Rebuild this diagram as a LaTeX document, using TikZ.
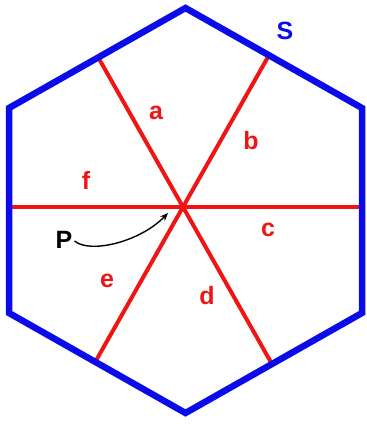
\documentclass[tikz,border=0pt]{standalone}
\usepackage{fontspec}
\setmainfont{Liberation Sans}
\usetikzlibrary{calc,arrows.meta}
\definecolor{hexblue}{RGB}{10,10,235}
\definecolor{segred}{RGB}{240,20,20}
\begin{document}
\begin{tikzpicture}[x=1pt,y=-1pt,
  lbl/.style={font=\bfseries\fontsize{25}{25}\selectfont, text=segred, inner sep=0pt},
  side/.style={draw=hexblue, line width=6.5pt, line join=miter},
  seg/.style={draw=segred, line width=4pt},
  pointer/.style={draw=black, line width=1.4pt, -{Stealth[length=8pt,width=6.5pt]}}]
\useasboundingbox (0,0) rectangle (367,424);
\coordinate (T) at (185.5,8);
\coordinate (UR) at (362,108);
\coordinate (LR) at (362,313);
\coordinate (B) at (185.5,413);
\coordinate (LL) at (9,313);
\coordinate (UL) at (9,108);
\coordinate (P) at (183,207);
\coordinate (Fa) at ($(UL)!(P)!(T)$);
\coordinate (Fb) at ($(T)!(P)!(UR)$);
\coordinate (Fc) at ($(UR)!(P)!(LR)$);
\coordinate (Fd) at ($(LR)!(P)!(B)$);
\coordinate (Fe) at ($(B)!(P)!(LL)$);
\coordinate (Ff) at ($(LL)!(P)!(UL)$);
\draw[seg] (P) -- (Fa);
\draw[seg] (P) -- (Fb);
\draw[seg] (P) -- (Fc);
\draw[seg] (P) -- (Fd);
\draw[seg] (P) -- (Fe);
\draw[seg] (P) -- (Ff);
\draw[side] (T) -- (UR) -- (LR) -- (B) -- (LL) -- (UL) -- cycle;
\node[lbl] (la) at (156,113) {a};
\node[lbl] (lb) at (251,141) {b};
\node[lbl] (lc) at (268,230) {c};
\node[lbl] (ld) at (207,296) {d};
\node[lbl] (le) at (107,281) {e};
\node[lbl] (lf) at (86,180) {f};
\node[lbl, text=hexblue] (lS) at (285,31) {S};
\node[lbl, text=black] (lP) at (64,240) {P};
\coordinate (Ptip) at (168,213);
\draw[pointer] (lP.east) ++(2,1) .. controls (90,254) and (140,242) .. (Ptip);
\end{tikzpicture}
\end{document}
